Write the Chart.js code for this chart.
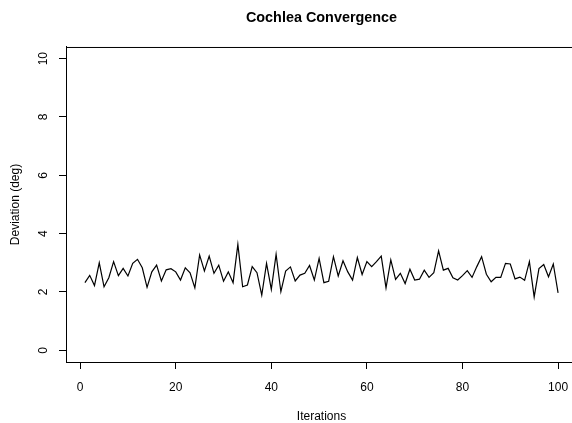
<!DOCTYPE html>
<html>
<head>
<meta charset="utf-8">
<script src="https://cdn.jsdelivr.net/npm/chart.js@4.4.1/dist/chart.umd.min.js"></script>
<style>
  html, body { margin: 0; padding: 0; background: #fff; overflow: hidden; }
  #wrap { width: 643px; height: 423px; }
</style>
</head>
<body>
<div id="wrap"><canvas id="myChart" width="643" height="423"></canvas></div>
<script>
const iterations = [
  1, 2, 3, 4, 5, 6, 7, 8, 9, 10, 11, 12, 13, 14, 15, 16, 17, 18, 19, 20,
  21, 22, 23, 24, 25, 26, 27, 28, 29, 30, 31, 32, 33, 34, 35, 36, 37, 38, 39, 40,
  41, 42, 43, 44, 45, 46, 47, 48, 49, 50, 51, 52, 53, 54, 55, 56, 57, 58, 59, 60,
  61, 62, 63, 64, 65, 66, 67, 68, 69, 70, 71, 72, 73, 74, 75, 76, 77, 78, 79, 80,
  81, 82, 83, 84, 85, 86, 87, 88, 89, 90, 91, 92, 93, 94, 95, 96, 97, 98, 99, 100
];
const deviation = [
  2.32, 2.57, 2.22, 3.00, 2.18, 2.49, 3.04, 2.56, 2.81, 2.55,
  2.98, 3.12, 2.83, 2.16, 2.69, 2.92, 2.38, 2.76, 2.80, 2.69,
  2.41, 2.83, 2.66, 2.14, 3.27, 2.72, 3.23, 2.64, 2.92, 2.37,
  2.69, 2.32, 3.63, 2.18, 2.24, 2.87, 2.66, 1.89, 2.98, 2.09,
  3.29, 2.01, 2.72, 2.86, 2.38, 2.58, 2.64, 2.91, 2.41, 3.15,
  2.32, 2.37, 3.21, 2.55, 3.07, 2.69, 2.41, 3.18, 2.60, 3.04,
  2.87, 3.04, 3.23, 2.14, 3.10, 2.43, 2.64, 2.29, 2.78, 2.41,
  2.44, 2.75, 2.50, 2.66, 3.41, 2.75, 2.81, 2.49, 2.41, 2.56,
  2.73, 2.50, 2.87, 3.21, 2.61, 2.35, 2.50, 2.50, 2.98, 2.96,
  2.45, 2.51, 2.40, 3.04, 1.83, 2.80, 2.94, 2.52, 2.96, 1.97
];
const xTicks = [0, 20, 40, 60, 80, 100];
const yTicks = [0, 2, 4, 6, 8, 10];

const FONT = "'Liberation Sans', Arial, Helvetica, sans-serif";

// caja completa alrededor del area del grafico (como box() en R)
const boxPlugin = {
  id: 'plotBox',
  afterDraw(chart) {
    const { ctx, chartArea } = chart;
    ctx.save();
    ctx.strokeStyle = '#000';
    ctx.lineWidth = 1;
    ctx.strokeRect(chartArea.left + 0.5, chartArea.top + 0.5,
      chartArea.right - chartArea.left, chartArea.bottom - chartArea.top);
    ctx.restore();
  },
};

new Chart(document.getElementById('myChart'), {
  type: 'line',
  data: {
    datasets: [{
      data: iterations.map((it, i) => ({ x: it, y: deviation[i] })),
      borderColor: '#000',
      borderWidth: 1.2,
      pointRadius: 0,
      tension: 0,
      fill: false,
    }],
  },
  options: {
    responsive: false,
    animation: false,
    layout: { padding: { left: 0, right: 66, top: 0, bottom: 0 } },
    plugins: {
      legend: { display: false },
      tooltip: { enabled: false },
      title: {
        display: true,
        fullSize: false,
        text: 'Cochlea Convergence',
        color: '#000',
        font: { family: FONT, size: 14.4, weight: 'bold', lineHeight: 1.2 },
        padding: { top: 9.4, bottom: 20.3 },
      },
    },
    scales: {
      x: {
        type: 'linear',
        min: -2.96,
        max: 103.96,
        afterBuildTicks: (scale) => { scale.ticks = xTicks.map((v) => ({ value: v })); },
        afterFit: (scale) => { scale.height = 61; },
        grid: { drawOnChartArea: false, drawTicks: true, tickLength: 7, color: '#000' },
        border: { display: true, color: '#000', width: 1 },
        ticks: { color: '#000', padding: 11, maxRotation: 0, font: { family: FONT, size: 12 } },
        title: {
          display: true,
          text: 'Iterations',
          color: '#000',
          font: { family: FONT, size: 12, lineHeight: 1.2 },
          padding: { top: 0, bottom: -1 },
        },
      },
      y: {
        type: 'linear',
        min: -0.4,
        max: 10.4,
        afterBuildTicks: (scale) => { scale.ticks = yTicks.map((v) => ({ value: v })); },
        afterFit: (scale) => { scale.width = 66; },
        grid: { drawOnChartArea: false, drawTicks: true, tickLength: 7, color: '#000' },
        border: { display: true, color: '#000', width: 1 },
        ticks: {
          color: '#000',
          padding: 9,
          minRotation: 90,
          maxRotation: 90,
          crossAlign: 'center',
          font: { family: FONT, size: 12 },
        },
        title: {
          display: true,
          text: 'Deviation (deg)',
          color: '#000',
          font: { family: FONT, size: 12, lineHeight: 1.2 },
          padding: { top: 8, bottom: 0 },
        },
      },
    },
  },
  plugins: [boxPlugin],
});
</script>
</body>
</html>
